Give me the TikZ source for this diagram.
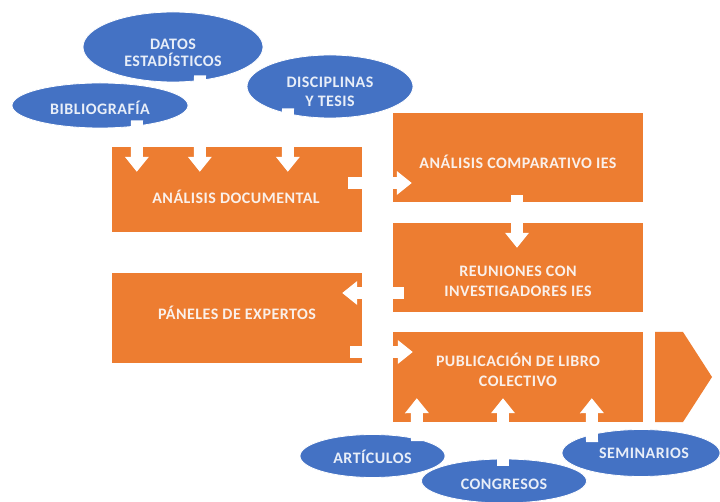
\documentclass[tikz,border=0pt]{standalone}
\usepackage{fontspec}
\setmainfont{Carlito}
\newfontfamily\labelfont[LetterSpace=3]{Carlito}
\usetikzlibrary{arrows.meta,calc,shapes.geometric}
\definecolor{boxorange}{HTML}{ED7D31}
\definecolor{ellblue}{HTML}{4472C4}
\definecolor{txtlight}{HTML}{FAF0EA}
\definecolor{txtblue}{HTML}{E8EEF8}
\tikzset{
  box/.style={fill=boxorange, draw=none, minimum width=250pt, inner sep=0pt},
  ell/.style={ellipse, fill=ellblue, draw=white, line width=0.8pt, inner sep=0pt},
  boxtext/.style={text=txtlight, align=center, font=\labelfont\bfseries\fontsize{16}{20}\selectfont, inner sep=0pt},
  elltext/.style={text=txtblue, align=center, font=\labelfont\bfseries\fontsize{16}{19}\selectfont, inner sep=0pt},
  blockarrow/.style={draw=white, line width=12pt, -{Triangle[length=15pt,width=23pt]}}
}
\begin{document}
\begin{tikzpicture}[x=1pt,y=-1pt]
\useasboundingbox (0,0) rectangle (720,502);
\fill[white] (0,0) rectangle (720,502);

% top ellipses
\node[ell, minimum width=180pt, minimum height=70pt] (datos) at (173,47) {};
\node[ell, minimum width=166pt, minimum height=63pt] (disc) at (330,86.5) {};
\node[ell, minimum width=176pt, minimum height=45pt] (bib) at (100,105.5) {};

% orange boxes
\node[box, minimum height=85pt] (ad) at (237,189.5) {};
\node[box, minimum height=89pt] (ac) at (518,157.5) {};
\node[box, minimum height=89pt] (reu) at (518,267.5) {};
\node[box, minimum height=90pt] (pan) at (237,318) {};
\node[box, minimum height=90pt] (pub) at (518,377) {};
\fill[boxorange] (655,332) -- (683,332) -- (712,377) -- (683,422) -- (655,422) -- cycle;

% bottom ellipses
\node[ell, minimum width=145pt, minimum height=43pt] (art) at (372.5,456) {};
\node[ell, minimum width=158pt, minimum height=47pt] (sem) at (641,453) {};
\node[ell, minimum width=165pt, minimum height=44pt] (cong) at (504,481) {};

% block arrows
\draw[blockarrow] ($(bib.south)+(37,-8)$) -- ($(ad.north west)+(25,25)$);
\draw[blockarrow] ($(datos.south)+(27,-7)$) -- ($(ad.north west)+(88,25)$);
\draw[blockarrow] ($(disc.south)+(-42,-10)$) -- ($(ad.north west)+(176,25)$);
\draw[blockarrow] ($(ad.east)+(-14,-6.5)$) -- ($(ac.west)+(19,25.5)$);
\draw[blockarrow] ($(ac.south)+(-1,-7)$) -- ($(reu.north)+(-1,25)$);
\draw[blockarrow] ($(reu.west)+(11,25.5)$) -- ($(pan.east)+(-20,-25)$);
\draw[blockarrow] ($(pan.east)+(-12,34)$) -- ($(pub.west)+(20,-25)$);
\draw[blockarrow] ($(art.north)+(44.5,7)$) -- ($(pub.south west)+(24,-24)$);
\draw[blockarrow] ($(cong.north)+(-1,7)$) -- ($(pub.south)+(-15,-24)$);
\draw[blockarrow] ($(sem.north)+(-49,13)$) -- ($(pub.south west)+(199,-24)$);

% texts
\node[elltext, font=\labelfont\bfseries\fontsize{16}{17}\selectfont] (datost) at ($(datos)+(0,6)$) {DATOS\\ESTADÍSTICOS};
\node[elltext] (disct) at ($(disc)+(0,5.5)$) {DISCIPLINAS\\Y TESIS};
\node[elltext] (bibt) at ($(bib)+(0,2)$) {BIBLIOGRAFÍA};
\node[boxtext] (adt) at ($(ad)+(-1,7.5)$) {ANÁLISIS DOCUMENTAL};
\node[boxtext] (act) at ($(ac)+(0,4.5)$) {ANÁLISIS COMPARATIVO IES};
\node[boxtext] (reut) at ($(reu)+(0,13.5)$) {REUNIONES CON\\INVESTIGADORES IES};
\node[boxtext] (pant) at ($(pan)+(0,-5)$) {PÁNELES DE EXPERTOS};
\node[boxtext] (pubt) at ($(pub)+(0,-7)$) {PUBLICACIÓN DE LIBRO\\COLECTIVO};
\node[elltext] (artt) at ($(art)+(0,1)$) {ARTÍCULOS};
\node[elltext] (congt) at ($(cong)+(0,3)$) {CONGRESOS};
\node[elltext] (semt) at ($(sem)+(3,0)$) {SEMINARIOS};
\end{tikzpicture}
\end{document}
